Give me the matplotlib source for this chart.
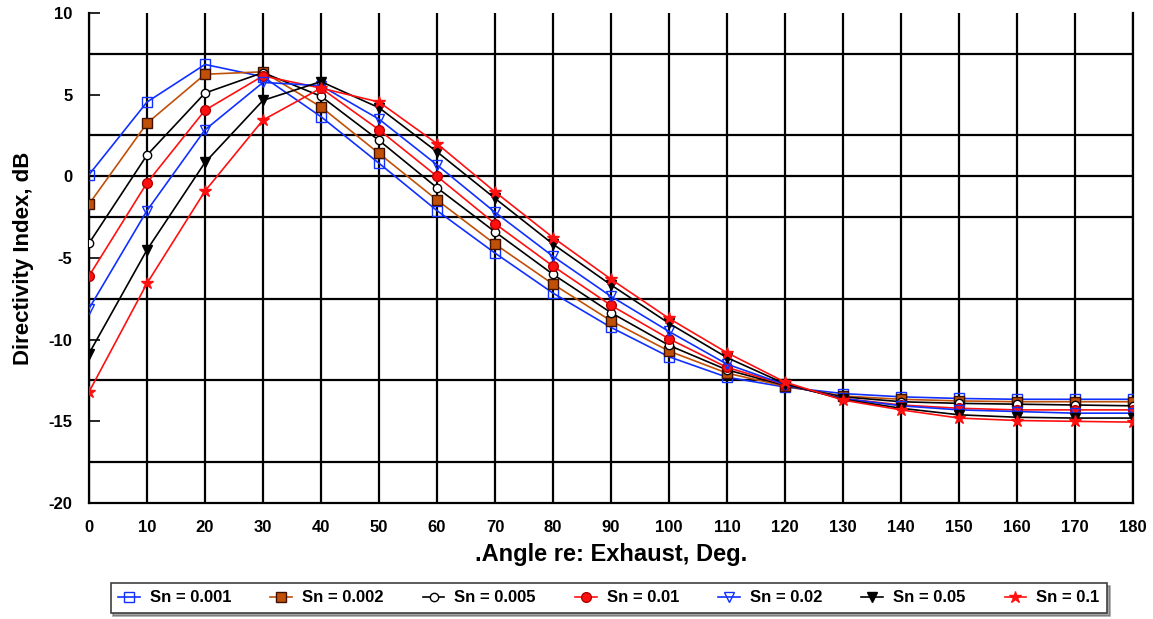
"""Directivity index vs. angle re: exhaust, for several Strouhal numbers."""
import matplotlib

matplotlib.use("Agg")
import matplotlib.pyplot as plt
import numpy as np

plt.rcParams["font.family"] = ["Liberation Sans", "DejaVu Sans"]
plt.rcParams["font.weight"] = "bold"
plt.rcParams["axes.unicode_minus"] = False

angles = list(range(0, 181, 10))

sn_0001 = [0.1, 4.55, 6.85, 6.1, 3.65, 0.8, -2.1, -4.7, -7.15, -9.25,
           -11.05, -12.3, -12.9, -13.3, -13.5, -13.6, -13.65, -13.65, -13.65]
sn_0002 = [-1.7, 3.25, 6.25, 6.4, 4.25, 1.4, -1.45, -4.15, -6.6, -8.85,
           -10.7, -12.05, -12.85, -13.45, -13.65, -13.75, -13.8, -13.8, -13.8]
sn_0005 = [-4.1, 1.3, 5.1, 6.35, 4.9, 2.2, -0.7, -3.4, -6.0, -8.35,
           -10.35, -11.85, -12.8, -13.5, -13.8, -13.9, -13.95, -14.0, -14.05]
sn_001 = [-6.1, -0.4, 4.05, 6.15, 5.4, 2.85, 0.0, -2.9, -5.5, -7.9,
          -9.95, -11.7, -12.75, -13.6, -14.0, -14.2, -14.3, -14.3, -14.3]
sn_002 = [-8.1, -2.1, 2.85, 5.75, 5.55, 3.5, 0.7, -2.2, -4.9, -7.35,
          -9.5, -11.5, -12.75, -13.6, -14.05, -14.3, -14.4, -14.5, -14.5]
sn_005 = [-10.85, -4.5, 0.85, 4.65, 5.8, 4.2, 1.5, -1.35, -4.15, -6.65,
          -9.0, -11.1, -12.7, -13.65, -14.2, -14.6, -14.75, -14.8, -14.8]
sn_01 = [-13.2, -6.55, -0.9, 3.45, 5.4, 4.55, 2.0, -0.95, -3.75, -6.3,
         -8.7, -10.8, -12.6, -13.7, -14.3, -14.8, -14.95, -15.0, -15.05]

labels = ["Sn = 0.001", "Sn = 0.002", "Sn = 0.005", "Sn = 0.01",
          "Sn = 0.02", "Sn = 0.05", "Sn = 0.1"]

BLUE = "#1030ff"
BROWN = "#c05008"
RED = "#ff1010"

styles = [
    dict(color=BLUE, marker="s", mfc="none", mec=BLUE, ms=6.5),
    dict(color=BROWN, marker="s", mfc=BROWN, mec="#401000", ms=7),
    dict(color="black", marker="o", mfc="white", mec="black", ms=6),
    dict(color=RED, marker="o", mfc=RED, mec="#b00000", ms=7),
    dict(color=BLUE, marker="v", mfc="none", mec=BLUE, ms=7),
    dict(color="black", marker="v", mfc="black", mec="black", ms=7),
    dict(color=RED, marker="*", mfc=RED, mec=RED, ms=9),
]

series = [sn_0001, sn_0002, sn_0005, sn_001, sn_002, sn_005, sn_01]

fig = plt.figure(figsize=(11.53, 6.19), dpi=100)
ax = fig.add_axes([0.0772, 0.1874, 0.9055, 0.7916])

# grid: vertical every 10 deg, horizontal at the 2.5 offsets plus zero line
ax.set_xlim(0, 180)
ax.set_ylim(-20, 10)
ax.set_xticks(angles)
ax.set_yticks(np.arange(-20, 11, 5))
ax.set_yticks([-17.5, -12.5, -7.5, -2.5, 2.5, 7.5], minor=True)
ax.grid(True, which="major", axis="x", color="black", linewidth=1.6)
ax.grid(True, which="minor", axis="y", color="black", linewidth=1.6)
ax.axhline(0, color="black", linewidth=1.6, zorder=1)
ax.set_axisbelow(True)

for vals, lab, st in zip(series, labels, styles):
    ax.plot(angles, vals, label=lab, linewidth=1.2, mew=1.0, zorder=3, **st)

ax.spines["top"].set_visible(False)
for side in ("left", "bottom", "right"):
    ax.spines[side].set_linewidth(1.6)
    ax.spines[side].set_color("black")

ax.tick_params(axis="x", length=0, pad=12, labelsize=12)
ax.tick_params(axis="y", which="major", direction="in", length=8, width=1.2,
               pad=12, labelsize=12)
ax.tick_params(axis="y", which="minor", length=0)
for t in ax.get_xticklabels() + ax.get_yticklabels():
    t.set_fontweight("bold")

ax.set_xlabel(".Angle re: Exhaust, Deg.", fontsize=17, fontweight="bold", labelpad=6)
ax.set_ylabel("Directivity Index, dB", fontsize=16, fontweight="bold", labelpad=10)

leg = fig.legend(loc="center", bbox_to_anchor=(0.528, 0.034), ncol=7,
                 frameon=True, fancybox=False, shadow=True, fontsize=12,
                 handlelength=1.3, columnspacing=2.35, handletextpad=0.6,
                 borderpad=0.45)
leg.get_frame().set_edgecolor("#404040")
leg.get_frame().set_linewidth(1.2)
for t in leg.get_texts():
    t.set_fontweight("bold")

fig.savefig("out.png", dpi=100)
